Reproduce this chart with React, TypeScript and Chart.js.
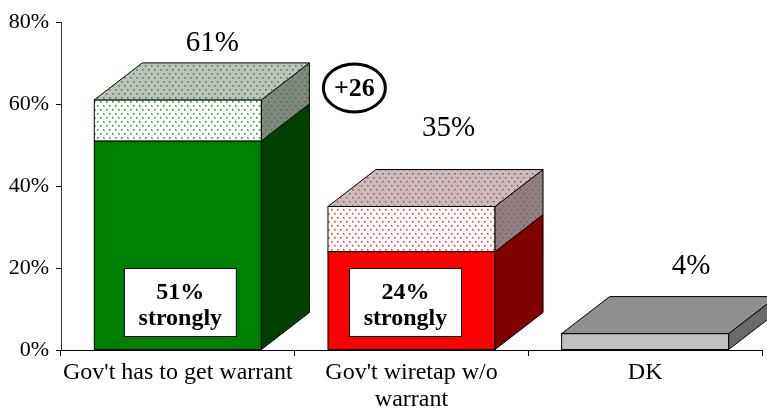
import React, { useEffect, useRef } from "react";
import { Chart, registerables } from "chart.js";

Chart.register(...registerables);

// ---------- data ----------
const categories: string[][] = [["Gov't has to get warrant"], ["Gov't wiretap w/o", "warrant"], ["DK"]];
const stronglyValues: (number | null)[] = [51, 24, null];
const somewhatValues: (number | null)[] = [10, 11, null];
const dkValues: (number | null)[] = [null, null, 4];
const yTickValues: number[] = [0, 20, 40, 60, 80];
const boxWord = "strongly";

// ---------- style ----------
const FONT = "'Liberation Serif', 'Times New Roman', serif";
const DEPTH_X = 48;
const DEPTH_Y = 37;
const labelDX = [34.5, 37, 46];
const labelDY = [-20, -41, -30];
const boxDX = [2.5, -6, 0];

function makeDots(bg: string, halo: string, dot: string): CanvasPattern | string {
  const c = document.createElement("canvas");
  c.width = 6;
  c.height = 8;
  const g = c.getContext("2d");
  if (!g) return bg;
  g.fillStyle = bg;
  g.fillRect(0, 0, 6, 8);
  g.fillStyle = halo;
  g.fillRect(1, 1, 2, 2);
  g.fillRect(4, 5, 2, 2);
  g.fillStyle = dot;
  g.fillRect(1, 1, 1, 1);
  g.fillRect(4, 5, 1, 1);
  const p = g.createPattern(c, "repeat");
  return p || bg;
}

export default function App() {
  const ref = useRef<HTMLCanvasElement | null>(null);

  useEffect(() => {
    if (!ref.current) return;

    const faceStyles = [
      {
        front: ["#008000", "#ff0000", "#c0c0c0"],
        side: ["#004000", "#800000", "#6a6a6a"],
        top: ["#00a000", "#ff6060", "#8f8f8f"],
      },
      {
        front: [makeDots("#ffffff", "#8fd08f", "#1f9a1f"), makeDots("#ffffff", "#ff9a9a", "#ff2020"), "#c0c0c0"],
        side: [makeDots("#858585", "#4f8f4f", "#0f8a0f"), makeDots("#858585", "#b06060", "#e82020"), "#6a6a6a"],
        top: [makeDots("#c0c0c0", "#70b070", "#109a10"), makeDots("#c0c0c0", "#e08080", "#f02020"), "#8f8f8f"],
      },
      {
        front: ["#c0c0c0", "#c0c0c0", "#c0c0c0"],
        side: ["#6a6a6a", "#6a6a6a", "#6a6a6a"],
        top: ["#8f8f8f", "#8f8f8f", "#8f8f8f"],
      },
    ];

    const bars3d = {
      id: "bars3d",
      afterDatasetsDraw(chart: any) {
        const ctx: CanvasRenderingContext2D = chart.ctx;
        const n = categories.length;
        ctx.save();
        ctx.lineWidth = 1;
        ctx.strokeStyle = "#000";
        ctx.lineJoin = "miter";
        const tops: { x: number; w: number; y: number; base: number }[] = [];
        for (let j = 0; j < n; j++) {
          const segs: { i: number; el: any }[] = [];
          chart.data.datasets.forEach((ds: any, i: number) => {
            const v = ds.data[j];
            if (v !== null && v !== undefined) segs.push({ i, el: chart.getDatasetMeta(i).data[j] });
          });
          let lastTop = 0;
          let x0 = 0;
          let x1 = 0;
          let baseAll = 0;
          segs.forEach((s, k) => {
            const el = s.el;
            x0 = el.x - el.width / 2;
            x1 = el.x + el.width / 2;
            const yT = el.y;
            const yB = el.base;
            if (k === 0) baseAll = yB;
            const st = faceStyles[s.i];
            // front
            ctx.fillStyle = st.front[j] as any;
            ctx.fillRect(x0, yT, x1 - x0, yB - yT);
            ctx.strokeRect(x0, yT, x1 - x0, yB - yT);
            // side
            ctx.beginPath();
            ctx.moveTo(x1, yB);
            ctx.lineTo(x1 + DEPTH_X, yB - DEPTH_Y);
            ctx.lineTo(x1 + DEPTH_X, yT - DEPTH_Y);
            ctx.lineTo(x1, yT);
            ctx.closePath();
            ctx.fillStyle = st.side[j] as any;
            ctx.fill();
            ctx.stroke();
            if (k === segs.length - 1) {
              ctx.beginPath();
              ctx.moveTo(x0, yT);
              ctx.lineTo(x0 + DEPTH_X, yT - DEPTH_Y);
              ctx.lineTo(x1 + DEPTH_X, yT - DEPTH_Y);
              ctx.lineTo(x1, yT);
              ctx.closePath();
              ctx.fillStyle = st.top[j] as any;
              ctx.fill();
              ctx.stroke();
              lastTop = yT;
            }
          });
          tops.push({ x: (x0 + x1) / 2, w: x1 - x0, y: lastTop, base: baseAll });
        }

        // totals above bars
        const totals = categories.map((_, j) =>
          [stronglyValues, somewhatValues, dkValues].reduce((a, arr) => a + (arr[j] ?? 0), 0)
        );
        ctx.fillStyle = "#000";
        ctx.textAlign = "center";
        ctx.textBaseline = "middle";
        ctx.font = `29px ${FONT}`;
        totals.forEach((t, j) => {
          ctx.fillText(`${t}%`, tops[j].x + labelDX[j], tops[j].y - DEPTH_Y + labelDY[j]);
        });

        // "strongly" boxes
        stronglyValues.forEach((v, j) => {
          if (v === null) return;
          const cx = tops[j].x + boxDX[j];
          const bw = 112;
          const bh = 68;
          const by = tops[j].base - 81;
          ctx.fillStyle = "#fff";
          ctx.fillRect(cx - bw / 2, by, bw, bh);
          ctx.strokeStyle = "#000";
          ctx.lineWidth = 1;
          ctx.strokeRect(cx - bw / 2, by, bw, bh);
          ctx.fillStyle = "#000";
          ctx.font = `bold 24px ${FONT}`;
          ctx.textBaseline = "alphabetic";
          ctx.fillText(`${v}%`, cx, by + 30);
          ctx.fillText(boxWord, cx, by + 56);
        });

        // difference circle
        const diff = totals[0] - totals[1];
        const ex = tops[0].x + tops[0].w / 2 + DEPTH_X + 45;
        const ey = tops[0].y - DEPTH_Y + 25;
        ctx.beginPath();
        ctx.ellipse(ex, ey, 31, 24, 0, 0, Math.PI * 2);
        ctx.lineWidth = 3;
        ctx.strokeStyle = "#000";
        ctx.stroke();
        ctx.font = `bold 26px ${FONT}`;
        ctx.textBaseline = "middle";
        ctx.fillStyle = "#000";
        ctx.fillText(`+${diff}`, ex, ey + 1);
        ctx.restore();
      },
    };

    const chart = new Chart(ref.current, {
      type: "bar",
      data: {
        labels: categories,
        datasets: [
          { label: "strongly", data: stronglyValues, backgroundColor: "transparent", borderWidth: 0 },
          { label: "somewhat", data: somewhatValues, backgroundColor: "transparent", borderWidth: 0 },
          { label: "DK", data: dkValues, backgroundColor: "transparent", borderWidth: 0 },
        ],
      },
      options: {
        animation: false,
        responsive: true,
        maintainAspectRatio: false,
        datasets: { bar: { barPercentage: 0.715, categoryPercentage: 1 } },
        layout: { padding: { top: 22, right: 5, left: 0, bottom: 0 } },
        plugins: { legend: { display: false }, tooltip: { enabled: false } },
        scales: {
          x: {
            stacked: true,
            grid: { display: true, drawOnChartArea: false, drawTicks: true, tickLength: 6, color: "#000", offset: true },
            border: { color: "#000" },
            ticks: {
              color: "#000",
              font: { family: FONT, size: 24, lineHeight: 1.1 },
              padding: 4,
              maxRotation: 0,
              autoSkip: false,
            },
            afterFit: (s: any) => {
              s.height = 64;
            },
          },
          y: {
            stacked: true,
            min: 0,
            max: 80,
            afterBuildTicks: (s: any) => {
              s.ticks = yTickValues.map((v) => ({ value: v }));
            },
            grid: { display: true, drawOnChartArea: false, drawTicks: true, tickLength: 5, color: "#000" },
            border: { color: "#333" },
            ticks: {
              color: "#000",
              font: { family: FONT, size: 22 },
              padding: 7,
              callback: (v: any) => `${v}%`,
            },
            afterFit: (s: any) => {
              s.width = 61;
            },
          },
        },
      },
      plugins: [bars3d],
    });
    return () => chart.destroy();
  }, []);

  return (
    <div style={{ position: "absolute", left: 0, top: 0, width: 767, height: 414, background: "#fff" }}>
      <canvas ref={ref} />
    </div>
  );
}
